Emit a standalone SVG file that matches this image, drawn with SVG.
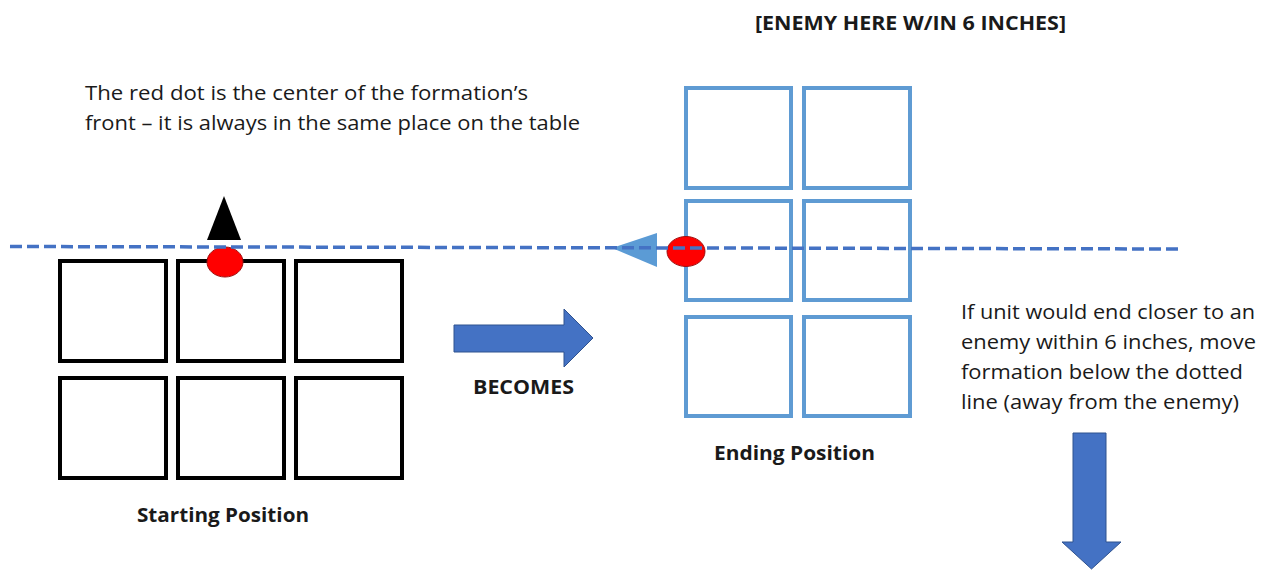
<svg xmlns="http://www.w3.org/2000/svg" width="1268" height="571" viewBox="0 0 1268 571">
  <style>
    .txt { font-family: "Open Sans", "Liberation Sans", sans-serif; font-size: 20px; fill: #1a1a1a; }
    .bold { font-weight: bold; font-size: 19px; }
    .start-sq { fill: none; stroke: #000000; stroke-width: 4; }
    .end-sq { fill: none; stroke: #5f9bd3; stroke-width: 4; }
    .dot { fill: #ff0000; stroke: #a01010; stroke-width: 1; }
    .big-arrow { fill: #4472c4; stroke: #2f528f; stroke-width: 1; }
  </style>

  <rect width="1268" height="571" fill="#ffffff"/>

  <!-- headline above the ending position -->
  <g id="enemy-label">
    <text class="txt bold" x="755" y="30" textLength="311" lengthAdjust="spacingAndGlyphs">[ENEMY HERE W/IN 6 INCHES]</text>
  </g>

  <!-- explanatory note, top left -->
  <g id="note-red-dot">
    <text class="txt" x="85" y="100" textLength="443" lengthAdjust="spacingAndGlyphs">The red dot is the center of the formation’s</text>
    <text class="txt" x="85" y="130" textLength="495" lengthAdjust="spacingAndGlyphs">front – it is always in the same place on the table</text>
  </g>

  <!-- starting formation: 3 wide, 2 deep -->
  <g id="starting-position">
    <rect class="start-sq" x="60" y="261" width="106" height="100"/>
    <rect class="start-sq" x="178" y="261" width="106" height="100"/>
    <rect class="start-sq" x="296" y="261" width="106" height="100"/>
    <rect class="start-sq" x="60" y="378" width="106" height="100"/>
    <rect class="start-sq" x="178" y="378" width="106" height="100"/>
    <rect class="start-sq" x="296" y="378" width="106" height="100"/>
    <polygon points="224,196 207,240 241,240" fill="#000000"/>
    <ellipse class="dot" cx="225" cy="262" rx="18" ry="15"/>
    <text class="txt bold" x="137" y="522" textLength="172" lengthAdjust="spacingAndGlyphs">Starting Position</text>
  </g>

  <!-- "becomes" arrow between the two formations -->
  <g id="becomes">
    <polygon class="big-arrow" points="454,325 564,325 564,309 593,338 564,367 564,352 454,352"/>
    <text class="txt bold" x="473" y="394" textLength="101" lengthAdjust="spacingAndGlyphs">BECOMES</text>
  </g>

  <!-- ending formation: 2 wide, 3 deep -->
  <g id="ending-position">
    <rect class="end-sq" x="686" y="88" width="105" height="100"/>
    <rect class="end-sq" x="804" y="88" width="106" height="100"/>
    <rect class="end-sq" x="686" y="201" width="105" height="99"/>
    <rect class="end-sq" x="804" y="201" width="106" height="99"/>
    <rect class="end-sq" x="686" y="317" width="105" height="99"/>
    <rect class="end-sq" x="804" y="317" width="106" height="99"/>
    <polygon points="612,248 657,233 657,267" fill="#5b9bd5"/>
    <ellipse class="dot" cx="686" cy="251.5" rx="19" ry="15"/>
    <text class="txt bold" x="714" y="460" textLength="161" lengthAdjust="spacingAndGlyphs">Ending Position</text>
  </g>

  <!-- reference line through the formation front -->
  <g id="connectors">
    <line x1="10" y1="246.5" x2="1181" y2="249" stroke="#4472c4" stroke-width="3.5" stroke-dasharray="12,5"/>
  </g>

  <!-- rule text and retreat arrow, right side -->
  <g id="rule-note">
    <text class="txt" x="961" y="319" textLength="294" lengthAdjust="spacingAndGlyphs">If unit would end closer to an</text>
    <text class="txt" x="961" y="349" textLength="295" lengthAdjust="spacingAndGlyphs">enemy within 6 inches, move</text>
    <text class="txt" x="961" y="379" textLength="282" lengthAdjust="spacingAndGlyphs">formation below the dotted</text>
    <text class="txt" x="961" y="409" textLength="278" lengthAdjust="spacingAndGlyphs">line (away from the enemy)</text>
  </g>
  <g id="retreat-arrow">
    <polygon class="big-arrow" points="1073,433 1106,433 1106,542 1121,542 1091.5,569 1062,542 1073,542"/>
  </g>
</svg>
